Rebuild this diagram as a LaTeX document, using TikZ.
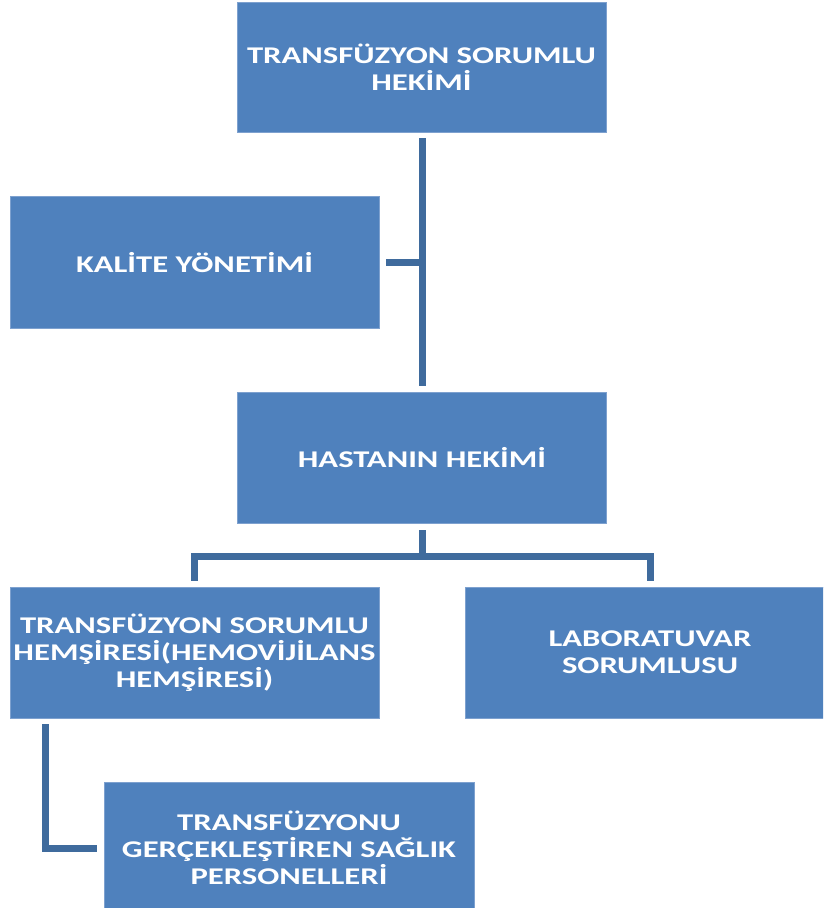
\documentclass[tikz,border=0pt]{standalone}
\usepackage{fontspec}
\newfontfamily\boxfont{Carlito}[FakeStretch=1.36]
\usetikzlibrary{calc}
\definecolor{boxblue}{HTML}{4F81BD}
\definecolor{boxedge}{HTML}{7EA1CF}
\definecolor{linkblue}{HTML}{3F6B9D}
\tikzset{
  orgbox/.style={rectangle, fill=boxblue, draw=boxedge, line width=0.8pt,
    minimum width=369pt, minimum height=130pt, inner sep=0pt,
    text=white, align=center, font=\boxfont\bfseries\fontsize{24}{27}\selectfont},
  conn/.style={draw=linkblue, line width=7pt}
}
\begin{document}
\begin{tikzpicture}[x=1pt,y=-1pt]
\useasboundingbox (0,0) rectangle (823,908);
\begin{scope}
\clip (0,0) rectangle (823,908);
\node[orgbox] (b1) at (421.5,67) {TRANSFÜZYON SORUMLU\\HEKİMİ};
\node[orgbox, minimum height=132pt] (b2) at (194.5,262.5) {KALİTE YÖNETİMİ};
\node[orgbox, minimum height=131pt] (b3) at (422,457.5) {HASTANIN HEKİMİ};
\node[orgbox, minimum height=131pt] (b4) at (194.5,652.5) {TRANSFÜZYON SORUMLU\\HEMŞİRESİ(HEMOVİJİLANS\\HEMŞİRESİ)};
\node[orgbox, minimum width=370pt, minimum height=131pt] (b5) at (650,652.5) {LABORATUVAR\\SORUMLUSU};
\node[orgbox, minimum width=370pt, minimum height=132pt] (b6) at (289,848) {TRANSFÜZYONU\\GERÇEKLEŞTİREN SAĞLIK\\PERSONELLERİ};
\coordinate (trunk) at ($(b1.south)+(0.5,0)$);
\draw[conn, shorten <=6pt, shorten >=6pt] (trunk) -- (trunk |- b3.north);
\draw[conn, shorten <=7pt] (b2.east) -- (b2.east -| trunk);
\draw[conn, shorten <=7pt, shorten >=6pt] (b3.south) -- ++(0,33) -| (b4.north);
\draw[conn, shorten >=6pt] ($(b3.south)+(0,33)$) -| (b5.north);
\draw[conn, shorten <=6pt, shorten >=7pt] ($(b4.south west)+(35.5,0)$) |- (b6.west);
\end{scope}
\end{tikzpicture}
\end{document}
